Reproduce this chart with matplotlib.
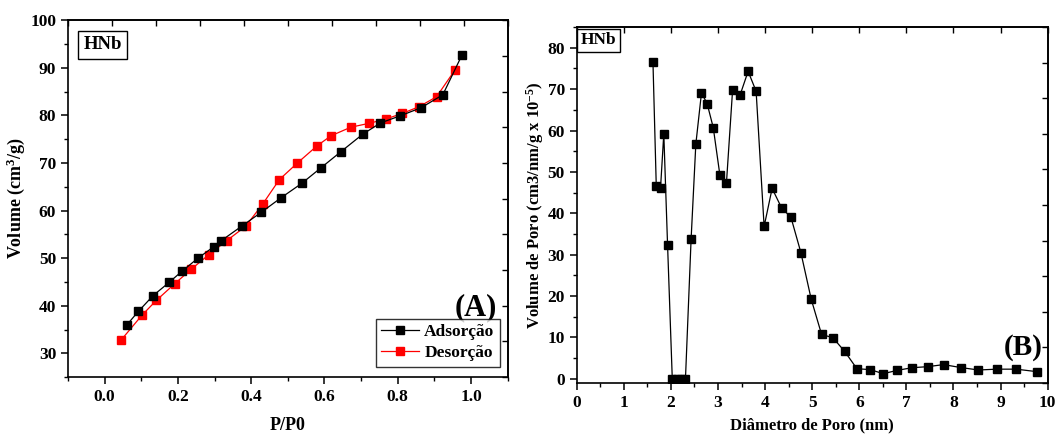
import matplotlib
matplotlib.use("Agg")
import matplotlib.pyplot as plt
from matplotlib.ticker import MultipleLocator, FixedLocator, NullFormatter
import numpy as np

plt.rcParams['font.family'] = ['Liberation Serif', 'DejaVu Serif']
plt.rcParams['font.weight'] = 'bold'
plt.rcParams['mathtext.fontset'] = 'custom'
plt.rcParams['mathtext.rm'] = 'Liberation Serif:bold'
plt.rcParams['mathtext.default'] = 'rm'

# (A) N2 isotherm
p_ads = [0.061, 0.092, 0.132, 0.176, 0.212, 0.255, 0.298, 0.319, 0.374, 0.427,
         0.482, 0.538, 0.591, 0.644, 0.704, 0.753, 0.807, 0.864, 0.923, 0.975]
v_ads = [36.0, 38.8, 42.1, 44.9, 47.3, 50.0, 52.4, 53.7, 56.7, 59.6,
         62.7, 65.7, 69.0, 72.3, 76.0, 78.4, 79.9, 81.6, 84.3, 92.6]
p_des = [0.957, 0.906, 0.858, 0.8125, 0.767, 0.721, 0.672, 0.618, 0.580, 0.525,
         0.477, 0.431, 0.385, 0.334, 0.284, 0.237, 0.191, 0.141, 0.103, 0.044]
v_des = [89.6, 83.9, 81.8, 80.4, 79.2, 78.3, 77.5, 75.7, 73.6, 69.9,
         66.5, 61.3, 56.7, 53.7, 50.7, 47.7, 44.6, 41.1, 38.1, 32.7]

# (B) pore size distribution
diam = [1.62, 1.69, 1.78, 1.85, 1.93, 2.03, 2.12, 2.21, 2.31, 2.43,
        2.53, 2.65, 2.77, 2.90, 3.04, 3.18, 3.31, 3.47, 3.64, 3.81,
        3.98, 4.15, 4.35, 4.55, 4.76, 4.98, 5.20, 5.44, 5.69, 5.95,
        6.23, 6.51, 6.80, 7.12, 7.45, 7.79, 8.15, 8.53, 8.92, 9.33, 9.77]
vol = [76.5, 46.6, 46.0, 59.2, 32.3, 0.0, 0.0, 0.0, 0.0, 33.8,
       56.7, 69.1, 66.5, 60.7, 49.3, 47.3, 69.7, 68.6, 74.3, 69.5,
       36.8, 46.0, 41.3, 39.0, 30.5, 19.2, 10.7, 9.9, 6.6, 2.4,
       2.2, 1.2, 2.0, 2.65, 2.9, 3.4, 2.7, 2.1, 2.3, 2.3, 1.7]

fig = plt.figure(figsize=(10.62, 4.37), dpi=100)
axA = fig.add_axes([0.064, 0.137, 0.414, 0.817])
axB = fig.add_axes([0.543, 0.124, 0.4435, 0.814])

tick_fs = 12.5
label_fs = 13


def style(ax, xlim, ylim, xmaj, xmin, ymaj, ymin, top_ticks, right_ticks):
    ax.set_xlim(*xlim)
    ax.set_ylim(*ylim)
    ax.xaxis.set_major_locator(MultipleLocator(xmaj))
    ax.xaxis.set_minor_locator(MultipleLocator(xmin))
    ax.yaxis.set_major_locator(MultipleLocator(ymaj))
    ax.yaxis.set_minor_locator(MultipleLocator(ymin))
    ax.tick_params(which='major', direction='out', length=5, width=1.1,
                   labelsize=tick_fs, top=False, right=False)
    ax.tick_params(which='minor', direction='out', length=3, width=1.0,
                   top=False, right=False)
    for s in ax.spines.values():
        s.set_linewidth(1.2)
    for lab in ax.get_xticklabels() + ax.get_yticklabels():
        lab.set_fontweight('bold')
    sx = ax.secondary_xaxis('top')
    sx.xaxis.set_major_locator(FixedLocator(top_ticks))
    sx.xaxis.set_major_formatter(NullFormatter())
    sx.tick_params(direction='in', length=4, width=1.0)
    sx.spines['top'].set_linewidth(1.2)
    sy = ax.secondary_yaxis('right')
    sy.yaxis.set_major_locator(FixedLocator(right_ticks))
    sy.yaxis.set_major_formatter(NullFormatter())
    sy.tick_params(direction='in', length=4, width=1.0)
    sy.spines['right'].set_linewidth(1.2)


# ---- panel A ----
axA.plot(p_ads, v_ads, color='black', lw=0.9, marker='s', ms=5.8,
         mec='black', mfc='black', label='Adsorção', zorder=3)
axA.plot(p_des, v_des, color='red', lw=0.9, marker='s', ms=5.8,
         mec='red', mfc='red', label='Desorção', zorder=2)
style(axA, (-0.1, 1.1), (25, 100), 0.2, 0.1, 10, 5,
      list(np.arange(-0.1, 1.11, 0.12)), list(np.arange(25, 100.1, 7.5)))
axA.set_xticks([0.0, 0.2, 0.4, 0.6, 0.8, 1.0])
axA.set_xticklabels(['0.0', '0.2', '0.4', '0.6', '0.8', '1.0'], fontweight='bold')
axA.set_xlabel('P/P0', fontsize=label_fs, fontweight='bold', labelpad=9)
axA.set_ylabel('Volume (cm$^3$/g)', fontsize=label_fs, fontweight='bold', labelpad=2)
axA.text(0.035, 0.955, 'HNb', transform=axA.transAxes, fontsize=13.5,
         fontweight='bold', va='top', ha='left',
         bbox=dict(boxstyle='square,pad=0.3', fc='white', ec='black', lw=1.0))
axA.text(0.975, 0.195, '(A)', transform=axA.transAxes, fontsize=22,
         fontweight='bold', ha='right', va='center')
leg = axA.legend(loc='lower right', bbox_to_anchor=(0.99, 0.02), fontsize=12.5,
                 frameon=True, fancybox=False, edgecolor='black',
                 handlelength=2.2, borderpad=0.3, labelspacing=0.3,
                 handletextpad=0.3, borderaxespad=0.2)
leg.get_frame().set_linewidth(1.0)
for t in leg.get_texts():
    t.set_fontweight('bold')

# ---- panel B ----
axB.plot(diam, vol, color='black', lw=0.9, marker='s', ms=6.2,
         mec='black', mfc='black')
style(axB, (0, 10), (-1, 85), 1, 0.5, 10, 5,
      list(np.arange(0, 10.01, 1.0)), list(np.arange(-1, 85.1, 8.6)))
axB.set_xlabel('Diâmetro de Poro (nm)', fontsize=12, fontweight='bold',
               labelpad=5)
axB.set_ylabel('Volume de Poro (cm3/nm/g x 10$^{-5}$)', fontsize=12,
               fontweight='bold', labelpad=1)
axB.text(0.008, 0.985, 'HNb', transform=axB.transAxes, fontsize=12.5,
         fontweight='bold', va='top', ha='left',
         bbox=dict(boxstyle='square,pad=0.22', fc='white', ec='black', lw=1.0))
axB.text(0.99, 0.10, '(B)', transform=axB.transAxes, fontsize=21,
         fontweight='bold', ha='right', va='center')

fig.savefig('out.png', dpi=100)
